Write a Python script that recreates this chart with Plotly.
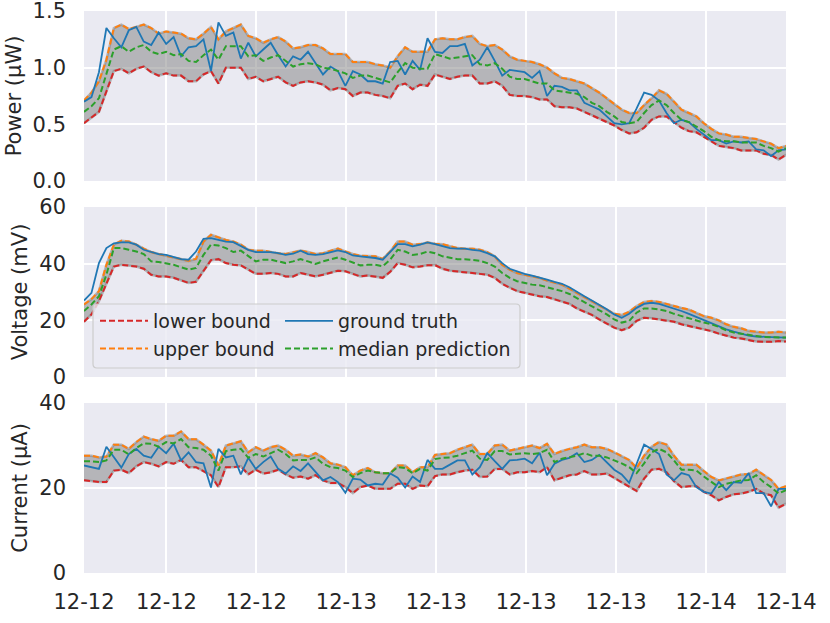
import pandas as pd
import plotly.graph_objects as go
from plotly.subplots import make_subplots

# ---------------- data ----------------
timestamps = pd.date_range("2023-12-12 06:30", "2023-12-14 05:20", periods=95)

tick_times = ["2023-12-12 06:30", "2023-12-12 12:00", "2023-12-12 18:00",
              "2023-12-13 00:00", "2023-12-13 06:00", "2023-12-13 12:00",
              "2023-12-13 18:00", "2023-12-14 00:00", "2023-12-14 05:20"]

power_lower = [0.51, 0.56, 0.61, 0.79, 0.97, 0.99, 0.95, 0.99, 1.01, 0.96, 0.93, 0.95, 0.93, 0.93, 0.88, 0.88,
               0.94, 0.97, 0.86, 1.00, 1.00, 1.00, 0.90, 0.92, 0.88, 0.90, 0.92, 0.87, 0.84, 0.87, 0.88, 0.87,
               0.85, 0.80, 0.82, 0.81, 0.75, 0.78, 0.78, 0.76, 0.75, 0.73, 0.84, 0.86, 0.81, 0.85, 0.84, 0.94,
               0.92, 0.90, 0.92, 0.93, 0.93, 0.86, 0.86, 0.88, 0.84, 0.76, 0.75, 0.75, 0.74, 0.72, 0.72,
               0.66, 0.65, 0.65, 0.64, 0.61, 0.58, 0.55, 0.52, 0.49, 0.45, 0.42, 0.43, 0.47, 0.54, 0.57, 0.57,
               0.52, 0.47, 0.44, 0.43, 0.39, 0.35, 0.31, 0.30, 0.29, 0.27, 0.27, 0.27, 0.24, 0.23, 0.19, 0.23]
power_upper = [0.71, 0.78, 0.88, 1.07, 1.35, 1.38, 1.34, 1.36, 1.38, 1.35, 1.30, 1.32, 1.31, 1.30, 1.26, 1.25,
               1.30, 1.36, 1.25, 1.32, 1.35, 1.38, 1.28, 1.26, 1.22, 1.25, 1.27, 1.23, 1.17, 1.18, 1.20, 1.20,
               1.17, 1.12, 1.12, 1.12, 1.05, 1.05, 1.05, 1.03, 1.02, 1.00, 1.10, 1.18, 1.14, 1.14, 1.14, 1.25,
               1.26, 1.25, 1.25, 1.27, 1.28, 1.21, 1.19, 1.20, 1.16, 1.10, 1.07, 1.06, 1.05, 1.03, 1.00,
               0.95, 0.91, 0.90, 0.88, 0.86, 0.82, 0.78, 0.73, 0.68, 0.63, 0.60, 0.60, 0.67, 0.73, 0.80, 0.77,
               0.70, 0.63, 0.60, 0.57, 0.51, 0.46, 0.42, 0.41, 0.39, 0.39, 0.38, 0.37, 0.35, 0.33, 0.29, 0.31]
power_median = [0.61, 0.66, 0.73, 0.94, 1.16, 1.19, 1.14, 1.18, 1.20, 1.14, 1.12, 1.14, 1.11, 1.12, 1.06, 1.05,
                1.11, 1.16, 1.07, 1.19, 1.19, 1.19, 1.10, 1.11, 1.06, 1.09, 1.11, 1.06, 1.01, 1.03, 1.04, 1.03,
                1.00, 0.99, 0.97, 0.95, 0.91, 0.93, 0.93, 0.91, 0.89, 0.87, 0.96, 1.04, 1.00, 0.99, 0.99, 1.12,
                1.10, 1.08, 1.09, 1.10, 1.11, 1.03, 1.02, 1.04, 0.99, 0.92, 0.90, 0.90, 0.88, 0.86, 0.86,
                0.80, 0.79, 0.78, 0.77, 0.74, 0.69, 0.66, 0.61, 0.57, 0.52, 0.51, 0.52, 0.60, 0.67, 0.71, 0.67,
                0.60, 0.54, 0.52, 0.48, 0.44, 0.39, 0.36, 0.35, 0.35, 0.34, 0.34, 0.34, 0.31, 0.29, 0.26, 0.29]
power_truth = [0.70, 0.74, 0.96, 1.35, 1.26, 1.18, 1.33, 1.36, 1.23, 1.20, 1.31, 1.21, 1.27, 1.10, 1.18, 1.19,
               1.25, 0.97, 1.40, 1.28, 1.31, 1.08, 1.22, 1.10, 1.16, 1.22, 1.11, 1.01, 1.10, 1.07, 1.14, 1.04,
               0.94, 1.01, 0.97, 0.84, 0.97, 0.94, 0.88, 0.88, 0.86, 1.05, 1.06, 0.94, 1.06, 0.98, 1.26, 1.14,
               1.13, 1.19, 1.19, 1.21, 1.02, 1.07, 1.18, 1.06, 0.93, 0.98, 0.97, 0.96, 0.91, 0.97, 0.75,
               0.84, 0.83, 0.80, 0.80, 0.69, 0.66, 0.63, 0.57, 0.51, 0.50, 0.51, 0.64, 0.78, 0.76, 0.71, 0.60,
               0.51, 0.54, 0.52, 0.46, 0.41, 0.36, 0.36, 0.33, 0.35, 0.34, 0.35, 0.28, 0.27, 0.22, 0.27, 0.28]

voltage_lower = [19.5, 22.1, 26.8, 32.6, 39.0, 39.6, 39.4, 39.0, 38.2, 36.1, 35.5, 35.5, 35.0, 34.0, 33.2, 33.6,
                 37.3, 41.2, 41.6, 40.2, 39.6, 39.4, 37.9, 36.4, 36.4, 36.7, 36.4, 35.5, 35.5, 36.7, 36.1, 35.5,
                 36.1, 36.7, 37.5, 37.3, 36.4, 35.5, 35.8, 35.5, 35.0, 37.1, 40.2, 39.6, 38.7, 39.0, 39.4, 39.5,
                 38.2, 37.5, 37.3, 37.1, 36.7, 36.4, 36.1, 35.0, 32.9, 31.5, 30.3, 29.7, 29.1, 28.5, 28.2,
                 27.4, 26.5, 25.8, 24.2, 23.0, 21.9, 20.3, 18.8, 17.4, 16.5, 17.4, 19.8, 20.9, 20.7, 20.3, 20.0,
                 19.5, 18.6, 18.0, 17.4, 16.8, 16.2, 15.3, 14.5, 13.9, 13.6, 13.0, 12.5, 12.4, 12.4, 12.7, 12.5]
voltage_upper = [25.6, 27.5, 30.3, 39.6, 46.7, 48.1, 47.8, 46.7, 45.3, 44.1, 43.4, 42.8, 42.0, 41.4, 41.0, 41.7,
                 47.8, 50.2, 49.2, 48.4, 47.8, 46.7, 44.9, 44.6, 44.6, 44.1, 43.7, 43.4, 44.1, 44.6, 44.1, 43.4,
                 43.7, 44.6, 45.3, 44.3, 43.4, 42.8, 42.6, 42.6, 41.7, 44.3, 47.8, 47.8, 46.7, 46.9, 47.5, 47.0,
                 46.9, 46.1, 45.5, 45.3, 45.3, 44.9, 44.1, 42.6, 39.6, 37.9, 36.7, 36.1, 35.5, 35.0, 34.0,
                 33.2, 32.6, 31.2, 29.7, 28.2, 26.8, 25.0, 23.5, 22.3, 21.9, 23.0, 25.0, 26.5, 26.8, 26.5, 25.8,
                 25.0, 24.4, 23.8, 22.7, 21.5, 20.9, 20.0, 18.6, 17.7, 17.2, 16.3, 16.0, 15.7, 15.7, 16.0, 15.7]
voltage_median = [23.3, 25.6, 28.5, 36.1, 45.5, 45.5, 44.9, 44.3, 43.4, 40.8, 40.6, 40.2, 39.6, 38.7, 37.9, 38.5,
                  43.1, 46.7, 46.4, 45.5, 44.1, 44.6, 42.8, 40.8, 41.4, 41.4, 40.8, 40.2, 40.8, 41.6, 40.8, 39.9,
                  40.8, 41.4, 42.2, 41.4, 40.5, 39.4, 39.6, 39.6, 39.1, 41.4, 44.9, 44.3, 43.1, 43.4, 44.3, 43.7,
                  42.6, 42.0, 41.6, 41.6, 41.4, 41.0, 40.2, 39.0, 36.7, 35.0, 33.8, 33.2, 32.6, 32.4, 31.7,
                  30.9, 30.3, 29.3, 27.9, 26.5, 25.0, 23.8, 22.1, 20.3, 19.2, 19.8, 22.7, 24.2, 24.2, 23.8, 23.3,
                  22.3, 21.5, 20.7, 20.0, 19.2, 18.6, 17.7, 16.5, 15.7, 15.3, 14.8, 14.5, 14.1, 14.1, 14.1, 13.9]
voltage_truth = [27.0, 29.7, 40.2, 45.5, 47.2, 47.5, 47.5, 46.7, 44.9, 44.1, 43.4, 43.1, 42.3, 41.6, 41.4, 44.3,
                 48.8, 49.0, 48.4, 47.8, 47.6, 46.1, 44.9, 44.1, 44.1, 44.1, 43.7, 43.1, 43.5, 44.6, 43.4, 43.1,
                 43.4, 44.1, 44.7, 44.1, 42.9, 42.6, 42.3, 42.0, 41.4, 44.3, 46.9, 46.9, 46.1, 46.7, 47.5, 46.9,
                 46.1, 45.5, 45.3, 45.3, 44.9, 44.6, 43.7, 42.6, 40.2, 38.2, 37.3, 36.4, 35.8, 35.2, 34.4,
                 33.6, 32.9, 31.7, 30.0, 28.5, 27.0, 25.6, 23.9, 22.1, 20.9, 22.3, 24.4, 25.8, 26.2, 25.8, 25.0,
                 24.1, 23.3, 22.3, 21.2, 20.0, 18.9, 18.0, 16.8, 16.0, 15.3, 14.6, 14.3, 14.1, 14.1, 14.0, 13.9]

current_lower = [21.8, 21.6, 21.4, 21.4, 24.1, 24.3, 23.5, 25.1, 26.1, 25.7, 25.1, 26.1, 25.7, 26.6, 24.9, 24.9,
                 24.0, 23.0, 20.2, 24.9, 24.9, 25.1, 23.2, 24.3, 23.4, 23.7, 24.3, 23.2, 22.4, 22.7, 22.2, 23.0,
                 21.8, 21.2, 21.2, 20.2, 18.8, 20.2, 20.6, 19.8, 19.8, 19.8, 21.0, 21.0, 19.8, 20.6, 20.4, 22.8,
                 23.2, 23.2, 23.7, 24.1, 24.3, 22.6, 22.7, 24.5, 24.5, 23.2, 23.7, 23.7, 24.0, 23.7, 24.9,
                 21.8, 22.4, 23.0, 23.2, 24.0, 23.2, 23.2, 23.4, 22.4, 21.4, 20.4, 19.3, 22.2, 24.3, 24.5, 23.7,
                 21.6, 20.2, 20.4, 20.4, 19.1, 18.3, 17.1, 17.9, 18.5, 18.7, 19.1, 19.8, 18.7, 18.3, 15.4, 16.3]
current_upper = [27.6, 27.6, 27.2, 27.4, 30.2, 30.2, 29.2, 30.8, 32.1, 31.5, 31.1, 32.3, 32.3, 33.3, 31.5, 31.5,
                 30.2, 28.8, 25.3, 30.0, 30.5, 31.0, 28.4, 29.6, 28.8, 29.6, 30.0, 29.0, 27.6, 27.9, 27.4, 28.2,
                 27.2, 25.8, 25.5, 24.9, 23.0, 24.1, 24.7, 23.7, 23.5, 23.5, 25.3, 25.3, 23.7, 24.9, 24.9, 27.8,
                 28.0, 28.2, 29.0, 29.6, 30.2, 28.0, 28.0, 30.0, 30.2, 28.8, 29.2, 29.6, 30.0, 29.4, 30.4,
                 28.0, 28.7, 29.2, 29.6, 30.2, 29.6, 29.6, 29.2, 28.4, 27.4, 26.6, 24.7, 27.6, 29.7, 30.8, 30.2,
                 27.6, 25.5, 25.5, 25.5, 24.0, 22.6, 21.8, 22.2, 22.7, 23.2, 23.3, 24.3, 23.0, 21.9, 19.8, 20.4]
current_median = [26.3, 26.3, 26.1, 26.5, 29.0, 29.0, 27.9, 29.4, 30.5, 30.4, 29.7, 30.8, 30.5, 31.5, 29.6, 29.4,
                  29.0, 27.6, 24.1, 28.7, 29.0, 29.2, 27.1, 28.0, 27.4, 28.2, 29.0, 28.0, 26.5, 26.6, 26.6, 27.2,
                  25.7, 24.9, 24.7, 24.1, 22.6, 23.5, 24.1, 23.7, 23.5, 23.5, 24.9, 24.7, 23.5, 24.5, 24.1, 26.8,
                  27.1, 27.2, 27.6, 28.2, 28.8, 26.9, 26.6, 28.7, 28.7, 27.9, 28.0, 28.2, 28.0, 28.2, 29.0,
                  26.1, 26.9, 27.2, 27.6, 28.2, 27.6, 27.6, 27.2, 26.5, 25.8, 24.9, 23.5, 25.8, 28.4, 29.2, 28.4,
                  26.5, 24.3, 24.3, 24.1, 22.7, 21.4, 20.2, 21.0, 21.4, 21.8, 21.9, 23.0, 21.4, 20.2, 18.7, 19.5]
current_truth = [25.3, 24.9, 24.5, 29.7, 27.1, 24.8, 28.0, 29.2, 27.6, 27.1, 29.7, 28.2, 30.4, 26.5, 28.4, 26.1,
                 25.8, 20.1, 29.2, 27.2, 27.6, 23.2, 27.1, 24.5, 26.1, 27.4, 24.5, 23.4, 25.1, 24.0, 25.8, 23.7,
                 21.8, 22.6, 21.4, 18.9, 22.2, 22.0, 20.6, 21.0, 20.8, 23.4, 22.4, 20.1, 22.7, 21.4, 26.6, 24.5,
                 24.5, 25.5, 26.5, 26.5, 23.2, 24.9, 28.2, 26.3, 24.5, 26.5, 26.6, 26.9, 25.8, 28.3, 23.0,
                 25.7, 26.6, 27.1, 28.2, 26.1, 26.6, 27.8, 26.1, 24.3, 23.2, 21.2, 25.7, 30.2, 29.2, 28.0, 23.2,
                 21.8, 23.5, 23.0, 20.2, 19.1, 18.7, 21.4, 19.5, 21.4, 21.2, 23.5, 18.8, 18.8, 15.7, 19.8, 19.8]

panel_titles = ["Power (μW)", "Voltage (mV)", "Current (μA)"]
panel_ranges = [[0, 1.5001], [0, 60.001], [0, 40.001]]
panel_ticks = [[0, 0.5, 1.0, 1.5], [0, 20, 40, 60], [0, 20, 40]]
panel_tickformat = [".1f", "d", "d"]

# ---------------- figure ----------------
W, H = 830, 623
ML, MR, MT, MB = 84, 44, 11, 50
PW, PH = W - ML - MR, H - MT - MB

fig = make_subplots(rows=3, cols=1, shared_xaxes=True, vertical_spacing=26 / PH)

RED, ORANGE, BLUE, GREEN = "#d62728", "#ff7f0e", "#1f77b4", "#2ca02c"
BAND = "rgba(128,128,128,0.5)"
DASH = "6px,3px"

panels = [
    (power_lower, power_upper, power_median, power_truth),
    (voltage_lower, voltage_upper, voltage_median, voltage_truth),
    (current_lower, current_upper, current_median, current_truth),
]

for r, (lo, up, med, tru) in enumerate(panels, start=1):
    first = r == 1
    fig.add_trace(go.Scatter(x=timestamps, y=lo, mode="lines", line=dict(color=BAND, width=2.5),
                             showlegend=False, hoverinfo="skip"), row=r, col=1)
    fig.add_trace(go.Scatter(x=timestamps, y=up, mode="lines", line=dict(color=BAND, width=2.5),
                             fill="tonexty", fillcolor=BAND, showlegend=False, hoverinfo="skip"),
                  row=r, col=1)
    fig.add_trace(go.Scatter(x=timestamps, y=lo, mode="lines", name="lower bound",
                             line=dict(color=RED, width=2, dash=DASH),
                             legend="legend", legendgroup="lo", showlegend=first), row=r, col=1)
    fig.add_trace(go.Scatter(x=timestamps, y=up, mode="lines", name="upper bound",
                             line=dict(color=ORANGE, width=2, dash=DASH),
                             legend="legend", legendgroup="up", showlegend=first), row=r, col=1)
    fig.add_trace(go.Scatter(x=timestamps, y=tru, mode="lines", name="ground truth",
                             line=dict(color=BLUE, width=1.8),
                             legend="legend2", legendgroup="gt", showlegend=first), row=r, col=1)
    fig.add_trace(go.Scatter(x=timestamps, y=med, mode="lines", name="median prediction",
                             line=dict(color=GREEN, width=2, dash=DASH),
                             legend="legend2", legendgroup="md", showlegend=first), row=r, col=1)

    fig.update_yaxes(range=panel_ranges[r - 1], tickvals=panel_ticks[r - 1],
                     tickformat=panel_tickformat[r - 1],
                     title=dict(text=panel_titles[r - 1], standoff=5, font=dict(size=21)),
                     row=r, col=1)

fig.update_xaxes(range=[timestamps[0], timestamps[-1]], tickvals=tick_times, tickformat="%m-%d",
                 showgrid=True, gridcolor="white", gridwidth=2, zeroline=False, showline=False,
                 ticks="", ticklabelstandoff=14, tickfont=dict(size=21), automargin=False,
                 ticklabeloverflow="allow")
fig.update_yaxes(showgrid=True, gridcolor="white", gridwidth=2, zeroline=False, showline=False,
                 ticks="", ticklabelstandoff=17, tickfont=dict(size=21), automargin=False,
                 ticklabeloverflow="allow")

# legend frame (matplotlib-style rounded box)
bx0, bx1 = (93 - ML) / PW, (520 - ML) / PW
by0, by1 = (H - MB - 368) / PH, (H - MB - 304) / PH
rx, ry = 4 / PW, 4 / PH
frame = (f"M {bx0 + rx},{by0} L {bx1 - rx},{by0} Q {bx1},{by0} {bx1},{by0 + ry} "
         f"L {bx1},{by1 - ry} Q {bx1},{by1} {bx1 - rx},{by1} L {bx0 + rx},{by1} "
         f"Q {bx0},{by1} {bx0},{by1 - ry} L {bx0},{by0 + ry} Q {bx0},{by0} {bx0 + rx},{by0} Z")
fig.add_shape(type="path", path=frame, xref="paper", yref="paper", layer="above",
              fillcolor="rgba(234,234,242,0.8)", line=dict(color="#cccccc", width=1.2))

legend_common = dict(bgcolor="rgba(0,0,0,0)", borderwidth=0, font=dict(size=19, color="#262626"),
                     yanchor="top", xanchor="left", tracegroupgap=0, itemwidth=48)
fig.update_layout(
    width=W, height=H,
    margin=dict(l=ML, r=MR, t=MT, b=MB, autoexpand=False),
    paper_bgcolor="white", plot_bgcolor="#EAEAF2",
    font=dict(family="DejaVu Sans", size=21, color="#262626"),
    showlegend=True,
    legend=dict(x=(95 - ML) / PW, y=(H - MB - 302) / PH, **legend_common),
    legend2=dict(x=(280 - ML) / PW, y=(H - MB - 302) / PH, **legend_common),
)

fig.write_html("out.html", config={"displayModeBar": False},
               post_script="document.body.style.margin='0px';")
